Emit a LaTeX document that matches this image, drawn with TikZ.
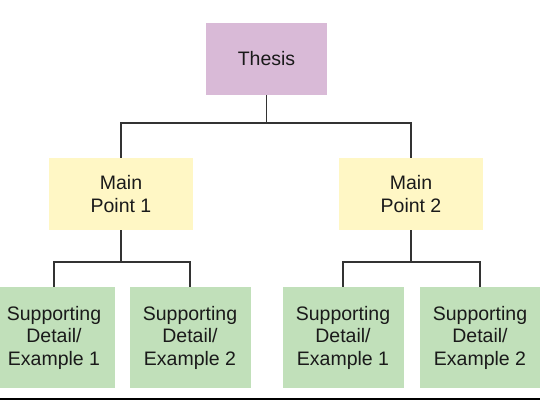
\documentclass[tikz,border=0pt]{standalone}
\usepackage{fontspec}
\setmainfont{Liberation Sans}
\definecolor{thesisfill}{HTML}{D9BAD7}
\definecolor{mainfill}{HTML}{FFF7C5}
\definecolor{detailfill}{HTML}{C1E0BA}
\definecolor{linecol}{HTML}{333333}
\definecolor{textcol}{HTML}{1A1A1A}
\tikzset{
  box/.style={draw=none, align=center, inner sep=0pt, text=textcol,
    font=\fontsize{19.5}{22.5}\selectfont},
  thesisbox/.style={box, fill=thesisfill, minimum width=121pt, minimum height=72pt},
  mainbox/.style={box, fill=mainfill, minimum width=144pt, minimum height=72pt},
  detailbox/.style={box, fill=detailfill, minimum width=121pt, minimum height=101pt},
  conn/.style={draw=linecol, line width=1.8pt}
}
\begin{document}
\begin{tikzpicture}[x=1pt,y=-1pt]
\useasboundingbox (0,0) rectangle (540,400);
\clip (0,0) rectangle (540,400);
\node[thesisbox] (thesis) at (266.5,59) {Thesis};
\node[mainbox] (mp1) at (121,194) {Main\\Point 1};
\node[mainbox] (mp2) at (411,194) {Main\\Point 2};
\node[detailbox] (d11) at (54,337.5) {Supporting\\Detail/\\Example 1};
\node[detailbox] (d12) at (190,337.5) {Supporting\\Detail/\\Example 2};
\node[detailbox] (d21) at (343,337.5) {Supporting\\Detail/\\Example 1};
\node[detailbox] (d22) at (480,337.5) {Supporting\\Detail/\\Example 2};
\coordinate (j0) at (266.5,123);
\coordinate (j1) at (121,262);
\coordinate (j2) at (411,262);
\draw[conn] (thesis.south) -- (j0);
\draw[conn] (mp1.north) |- (j0) -| (mp2.north);
\draw[conn] (mp1.south) -- (j1);
\draw[conn] (d11.north) |- (j1) -| (d12.north);
\draw[conn] (mp2.south) -- (j2);
\draw[conn] (d21.north) |- (j2) -| (d22.north);
\coordinate (bl) at (0,399);
\coordinate (br) at (540,399);
\draw[black, line width=2pt] (bl) -- (br);
\end{tikzpicture}
\end{document}
